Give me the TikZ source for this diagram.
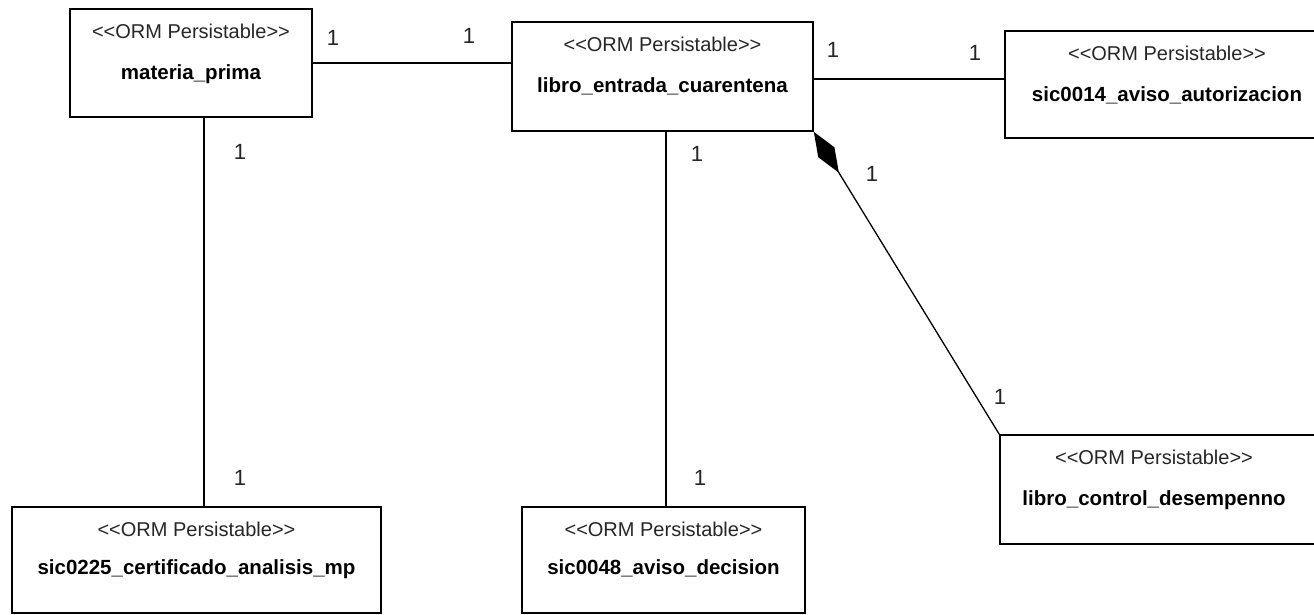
\documentclass[tikz,border=0pt]{standalone}
\usepackage{fontspec}
\setmainfont{Liberation Sans}
\usetikzlibrary{calc,arrows.meta}
\begin{document}
\begin{tikzpicture}[x=1pt,y=-1pt,
  cls/.style={draw=black, line width=1.6pt, fill=white, inner sep=0pt},
  stereo/.style={anchor=base, inner sep=0pt, text=black!85, font=\fontsize{20}{24}\selectfont},
  cname/.style={anchor=base, inner sep=0pt, text=black, font=\fontsize{20.5}{24}\selectfont\bfseries},
  conn/.style={draw=black, line width=1.3pt},
  mult/.style={inner sep=0pt, text=black!85, font=\fontsize{22}{24}\selectfont}
]
\useasboundingbox (0,0) rectangle (1314,615);
\fill[white] (0,0) rectangle (1314,615);

% class boxes
\node[cls, minimum width=242pt, minimum height=108pt] (mp) at (191,63) {};
\node[cls, minimum width=301pt, minimum height=109pt] (lec) at (662.5,76.5) {};
\node[cls, minimum width=324pt, minimum height=107pt] (s14) at (1167,84.5) {};
\node[cls, minimum width=318pt, minimum height=109pt] (lcd) at (1159,489.5) {};
\node[cls, minimum width=369pt, minimum height=106pt] (s225) at (196.5,560) {};
\node[cls, minimum width=283pt, minimum height=106pt] (s48) at (663.5,560) {};

% texts
\node[stereo] (mpst) at ($(mp.north)+(0,30)$) {<{}<ORM Persistable>{}>};
\node[cname] (mpnm) at ($(mp.north)+(0,71)$) {materia\_prima};
\node[stereo] (lecst) at ($(lec.north)+(0,30)$) {<{}<ORM Persistable>{}>};
\node[cname] (lecnm) at ($(lec.north)+(0,71)$) {libro\_entrada\_cuarentena};
\node[stereo] (s14st) at ($(s14.north)+(0,30)$) {<{}<ORM Persistable>{}>};
\node[cname] (s14nm) at ($(s14.north)+(0,71)$) {sic0014\_aviso\_autorizacion};
\node[stereo] (lcdst) at ($(lcd.north)+(-5,30)$) {<{}<ORM Persistable>{}>};
\node[cname] (lcdnm) at ($(lcd.north)+(-5,71)$) {libro\_control\_desempenno};
\node[stereo] (s225st) at ($(s225.north)+(0,30)$) {<{}<ORM Persistable>{}>};
\node[cname] (s225nm) at ($(s225.north)+(0,68)$) {sic0225\_certificado\_analisis\_mp};
\node[stereo] (s48st) at ($(s48.north)+(0,30)$) {<{}<ORM Persistable>{}>};
\node[cname] (s48nm) at ($(s48.north)+(0,68)$) {sic0048\_aviso\_decision};

% connectors
\draw[conn] (mp.east) -- (mp.east -| lec.west);
\draw[conn] ($(lec.east)+(0,2.5)$) coordinate (le) -- (le -| s14.west);
\draw[conn] ($(mp.south)+(13,0)$) coordinate (ms) -- (ms |- s225.north);
\draw[conn] ($(lec.south)+(3.5,0)$) coordinate (ls) -- (ls |- s48.north);
\draw[conn, {Diamond[length=48pt,width=19pt]}-] (lec.south east) -- (lcd.north west);

% multiplicities
\node[mult] (m1) at (333,38) {1};
\node[mult] (m2) at (469,36) {1};
\node[mult] (m3) at (833,50) {1};
\node[mult] (m4) at (975,53) {1};
\node[mult] (m5) at (240,152) {1};
\node[mult] (m6) at (240,478) {1};
\node[mult] (m7) at (697,154) {1};
\node[mult] (m8) at (700,478) {1};
\node[mult] (m9) at (872,174) {1};
\node[mult] (m10) at (1000,397) {1};
\end{tikzpicture}
\end{document}
